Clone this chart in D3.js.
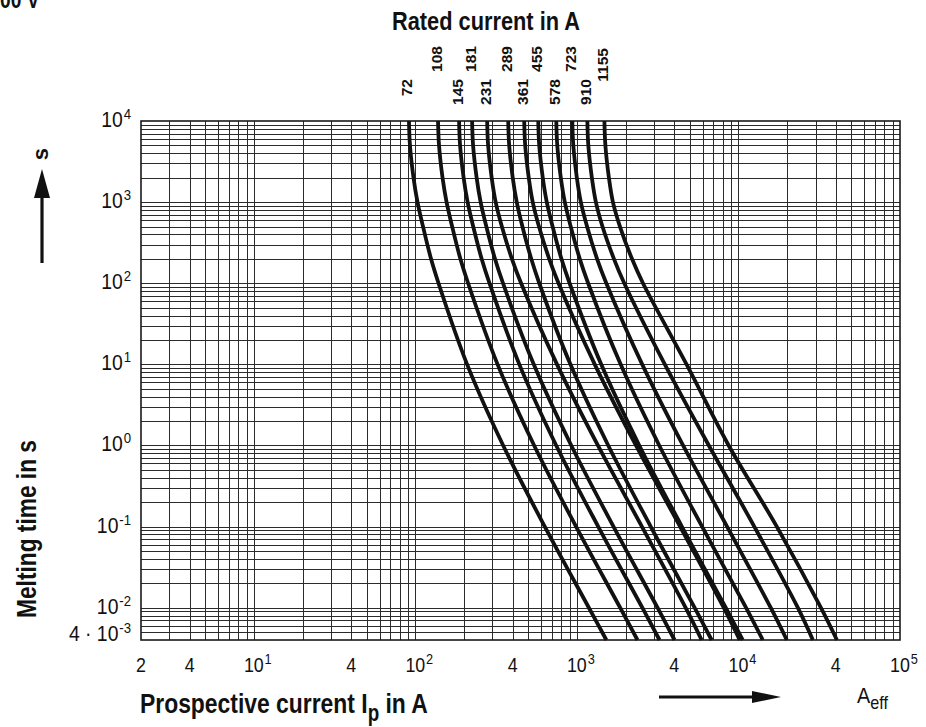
<!DOCTYPE html>
<html><head><meta charset="utf-8">
<script src="https://cdn.jsdelivr.net/npm/d3@7"></script>
<style>html,body{margin:0;padding:0;background:#fff}svg{display:block}</style>
</head><body>
<svg id="c" width="926" height="727"></svg>
<script>
// ---- data ----
const times = [10000, 5000, 2000, 1000, 500, 200, 100, 10, 1, 0.1, 0.01, 0.004]; // melting time, s
const ratings = ["72","108","145","181","231","289","361","455","578","723","910","1155"]; // rated current, A
const melt72   = [91.2, 92.5, 97.3, 103, 111.4, 124.9, 139, 208.9, 349.4, 632.2, 1185, 1521];
const melt108  = [138, 140, 147.2, 155.9, 168.8, 189.8, 211.9, 322.5, 543.3, 987.3, 1851, 2370];
const melt145  = [186.3, 189, 198.8, 210.4, 227.9, 257, 287.3, 439.8, 744, 1354, 2539, 3245];
const melt181  = [224.3, 227.5, 239.3, 253.3, 274.8, 310.8, 348.4, 540.1, 922.2, 1684, 3154, 4020];
const melt231  = [278, 281.9, 296.6, 313.9, 342.9, 395.6, 451.1, 752.5, 1348, 2524, 4705, 5911];
const melt289  = [375.3, 380.6, 400.4, 423.8, 459.6, 521.2, 584.4, 911.1, 1562, 2862, 5349, 6822];
const melt361  = [471.5, 478.2, 503.1, 532.5, 581.8, 673.1, 768.8, 1289, 2319, 4350, 8105, 10174];
const melt455  = [575.9, 584.1, 614.4, 650.4, 706.8, 801.5, 900.6, 1413, 2432, 4462, 8341, 10619];
const melt578  = [744.8, 755.4, 794.6, 841.1, 915, 1041, 1173, 1864, 3232, 5955, 11132, 14137];
const melt723  = [936.1, 949.4, 998.7, 1057, 1155, 1332, 1520, 2535, 4539, 8500, 15839, 19912];
const melt910  = [1160, 1176, 1237, 1310, 1439, 1694, 1963, 3500, 6555, 12531, 23303, 28870];
const melt1155 = [1479, 1500, 1577, 1670, 1846, 2191, 2563, 4772, 8696, 17268, 32370, 40674];
const curves = [melt72, melt108, melt145, melt181, melt231, melt289, melt361, melt455, melt578, melt723, melt910, melt1155];

const xTickValues = [2, 4, 10, 40, 100, 400, 1000, 4000, 10000, 40000, 100000];
const xTickLabels = ["2", "4", "10^1", "4", "10^2", "4", "10^3", "4", "10^4", "4", "10^5"];
const yTickValues = [10000, 1000, 100, 10, 1, 0.1, 0.01, 0.004];
const yTickLabels = ["10^4", "10^3", "10^2", "10^1", "10^0", "10^-1", "10^-2", "4 \u00B7 10^-3"];

const titleTop = "Rated current in A";
const titleY = "Melting time in s";
const titleX = ["Prospective current I", "p", " in A"];
const unitX = ["A", "eff"];
const unitY = "s";
const cornerText = "00 V";

// ---- drawing ----
const FONT = "'Liberation Sans', Arial, 'DejaVu Sans', sans-serif";
const INK = "#111";
const svg = d3.select("#c");
const L = 141, R = 900, T = 121, B = 640;
const x = d3.scaleLog().domain([2, 1e5]).range([L, R]);
const y = d3.scaleLog().domain([0.004, 1e4]).range([B, T]);

// grid values
const xGrid = [], yGrid = [];
for (let k = 0; k <= 5; k++) for (let m = 1; m <= 9; m++) {
  const v = +(m * Math.pow(10, k)).toPrecision(6);
  if (v > 2 && v < 1e5) xGrid.push(v);
}
for (let k = -3; k <= 4; k++) for (let m = 1; m <= 9; m++) {
  const v = +(m * Math.pow(10, k)).toPrecision(6);
  if (v > 0.004 && v < 1e4) yGrid.push(v);
}
const grid = svg.append("g").attr("stroke", "#2b2b2b").attr("stroke-width", 1).attr("shape-rendering", "crispEdges");
grid.selectAll("line.v").data(xGrid).join("line").attr("class", "v")
  .attr("x1", d => Math.round(x(d)) + 0.5).attr("x2", d => Math.round(x(d)) + 0.5)
  .attr("y1", T).attr("y2", B);
grid.selectAll("line.h").data(yGrid).join("line").attr("class", "h")
  .attr("y1", d => Math.round(y(d)) + 0.5).attr("y2", d => Math.round(y(d)) + 0.5)
  .attr("x1", L).attr("x2", R);
svg.append("rect").attr("x", L).attr("y", T).attr("width", R - L).attr("height", B - T)
  .attr("fill", "none").attr("stroke", "#1a1a1a").attr("stroke-width", 1.6);

// curves
const line = d3.line().x(d => x(d[0])).y(d => y(d[1])).curve(d3.curveCatmullRom.alpha(0.5));
svg.append("g").attr("fill", "none").attr("stroke", INK).attr("stroke-width", 3.8)
  .attr("stroke-linecap", "butt")
  .selectAll("path").data(curves).join("path")
  .attr("d", c => line(c.map((v, i) => [v, times[i]])));

// generic text helper (parts: [{t, dy, size}])
function txt(parent, parts, o) {
  const t = parent.append("text").attr("font-family", FONT).attr("font-size", o.size)
    .attr("font-weight", o.weight || "normal").attr("text-anchor", o.anchor || "start").attr("fill", INK);
  parts.forEach(p => {
    const s = t.append("tspan").text(p.t);
    if (p.dy) s.attr("dy", p.dy);
    if (p.size) s.attr("font-size", p.size);
    if (p.dx) s.attr("dx", p.dx);
  });
  let sx = o.sx || 1;
  if (o.width) sx = o.width / t.node().getComputedTextLength();
  t.attr("transform", `translate(${o.x},${o.y}) rotate(${o.rot || 0}) scale(${sx},1)`);
  return t;
}
function powParts(s, supSize, raise) {
  const [b, e] = s.split("^");
  if (e === undefined) return [{ t: b }];
  return [{ t: b }, { t: e, dy: -raise, size: supSize, dx: 1 }];
}

// x tick labels
const gx = svg.append("g");
xTickValues.forEach((v, i) => {
  const lab = xTickLabels[i];
  const isPow = lab.includes("^");
  txt(gx, powParts(lab, 15, 8), { x: isPow ? x(v) - 10 : x(v), y: 672, size: 21,
    anchor: isPow ? "start" : "middle", sx: 0.85 });
});
// y tick labels
const gy = svg.append("g");
yTickValues.forEach((v, i) => {
  const last = i === yTickValues.length - 1;
  txt(gy, powParts(yTickLabels[i], 15, 8), { x: 131, y: y(v) + (last ? 1 : 6), size: 22, anchor: "end", sx: 0.88 });
});

// rating labels
const gr = svg.append("g");
ratings.forEach((r, i) => {
  const high = i % 2 === 1;
  txt(gr, [{ t: r }], { x: x(curves[i][0]) + 3.5, y: high ? (r.length > 3 ? 48 : 46) : 79,
    size: 15.5, weight: "bold", anchor: "end", rot: -90 });
});

// titles
txt(svg, [{ t: titleTop }], { x: 486, y: 30, size: 25, weight: "bold", anchor: "middle", width: 188 });
txt(svg, [{ t: titleY }], { x: 36, y: 529, size: 28, weight: "bold", anchor: "middle", rot: -90, width: 178 });
txt(svg, [{ t: titleX[0] }, { t: titleX[1], dy: 8, size: 23 }, { t: titleX[2], dy: -8 }],
  { x: 140, y: 713, size: 28, weight: "bold", anchor: "start", width: 288 });
txt(svg, [{ t: unitX[0] }, { t: unitX[1], dy: 6, size: 18 }], { x: 857, y: 703, size: 22, anchor: "start", sx: 0.9 });
txt(svg, [{ t: unitY }], { x: 48, y: 154, size: 22, weight: "bold", anchor: "middle", rot: -90 });
txt(svg, [{ t: cornerText }], { x: 0, y: 8, size: 24, weight: "bold", anchor: "start", sx: 0.8 });

// arrows
svg.append("line").attr("x1", 659).attr("y1", 697).attr("x2", 758).attr("y2", 697)
  .attr("stroke", INK).attr("stroke-width", 3);
svg.append("path").attr("d", "M752,691 L781,697 L752,703 Z").attr("fill", INK);
svg.append("line").attr("x1", 42).attr("y1", 263).attr("x2", 42).attr("y2", 195)
  .attr("stroke", INK).attr("stroke-width", 3.2);
svg.append("path").attr("d", "M34,198 L42,169 L50,198 Z").attr("fill", INK);
</script>
</body></html>
